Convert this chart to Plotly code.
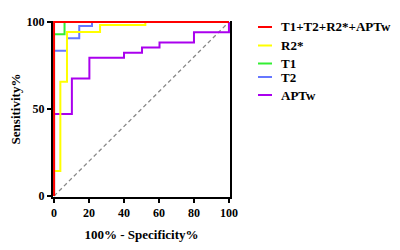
import plotly.graph_objects as go

names = ["T1+T2+R2*+APTw", "R2*", "T1", "T2", "APTw"]
colors = ["#ff0000", "#ffff00", "#33ee33", "#6677ff", "#aa00ee"]

# ROC step curves: x = 100% - Specificity%, y = Sensitivity%
comb_x = [0, 0, 100]
comb_y = [0, 100, 100]
r2_x = [0, 0, 3.6, 3.6, 7.4, 7.4, 26.3, 26.3, 52.2, 52.2, 100]
r2_y = [0, 14.3, 14.3, 65.7, 65.7, 94.3, 94.3, 98.3, 98.3, 100, 100]
t1_x = [0, 0, 6, 6, 100]
t1_y = [0, 93, 93, 100, 100]
t2_x = [0, 0, 7.4, 7.4, 14.4, 14.4, 21.7, 21.7, 100]
t2_y = [0, 83.5, 83.5, 90.7, 90.7, 97.7, 97.7, 100, 100]
apt_x = [0, 0, 10.2, 10.2, 20.2, 20.2, 40, 40, 50.3, 50.3, 60.3, 60.3, 80, 80, 100, 100]
apt_y = [0, 47.1, 47.1, 67.6, 67.6, 79.4, 79.4, 82.4, 82.4, 85.3, 85.3, 88.2, 88.2, 94.1, 94.1, 100]
ref_x = [0, 100]
ref_y = [0, 100]

x_ticks = [0, 20, 40, 60, 80, 100]
y_ticks = [0, 50, 100]

series = [(comb_x, comb_y), (r2_x, r2_y), (t1_x, t1_y), (t2_x, t2_y), (apt_x, apt_y)]

# page body has an 8px margin; figure placed so the plot area lands where the reference has it
OFF = 8
W, H = 392, 242
L, T = 53 - OFF, 21 - OFF
PW, PH = 177, 176
R = W - L - PW
B = H - T - PH

fig = go.Figure()
fig.add_trace(go.Scatter(x=ref_x, y=ref_y, mode="lines",
                         line=dict(color="#888888", width=1.3, dash="4px,3px"),
                         showlegend=False))
for i in [4, 3, 1, 2, 0]:
    xs, ys = series[i]
    fig.add_trace(go.Scatter(x=xs, y=ys, mode="lines", name=names[i],
                             line=dict(color=colors[i], width=2),
                             showlegend=False))

font_family = "Liberation Serif, Times New Roman, serif"
# manual legend (uneven spacing as in reference), pixel rows in the page
leg_y = [27, 45.5, 63.5, 77, 95]
for i, nm in enumerate(names):
    yy = (21 + PH - leg_y[i]) / PH
    fig.add_shape(type="line", xref="paper", yref="paper",
                  x0=(258 - 53) / PW, x1=(272 - 53) / PW, y0=yy, y1=yy,
                  line=dict(color=colors[i], width=2))
    fig.add_annotation(xref="paper", yref="paper",
                       x=(279 - 53) / PW, y=yy,
                       text=nm, showarrow=False, xanchor="left", yanchor="middle",
                       font=dict(family=font_family, size=13, color="black", weight="bold"))

axis_common = dict(showgrid=False, zeroline=False, showline=True, linecolor="black",
                   linewidth=2, ticks="outside", tickwidth=2, ticklen=4, tickcolor="black",
                   tickfont=dict(family=font_family, size=12, color="black", weight="bold"),
                   layer="below traces")
fig.update_xaxes(range=[-0.6, 100.6], tickvals=x_ticks,
                 title=dict(text="100% - Specificity%", standoff=10,
                            font=dict(family=font_family, size=13, color="black", weight="bold")),
                 mirror=False, **axis_common)
fig.update_yaxes(range=[-0.6, 100.6], tickvals=y_ticks,
                 title=dict(text="Sensitivity%", standoff=7,
                            font=dict(family=font_family, size=13, color="black", weight="bold")),
                 mirror=True, **axis_common)

fig.update_layout(width=W, height=H, margin=dict(l=L, r=R, t=T, b=B, autoexpand=False),
                  plot_bgcolor="white", paper_bgcolor="white", showlegend=False)
fig.write_html("out.html")
